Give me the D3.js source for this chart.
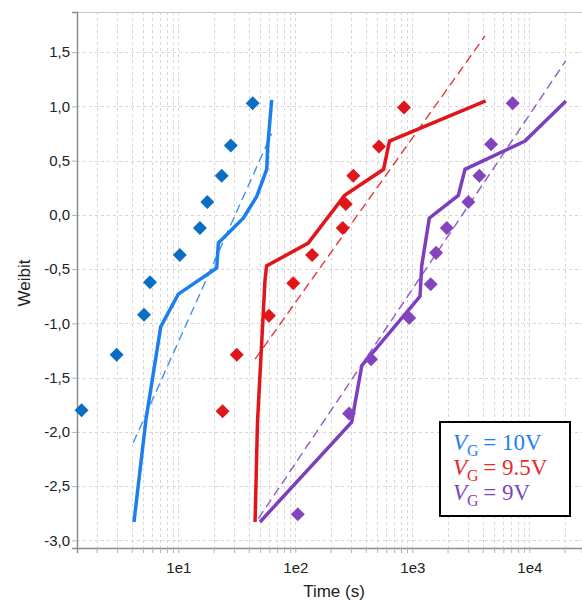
<!DOCTYPE html>
<html>
<head>
<meta charset="utf-8">
<script src="https://cdn.jsdelivr.net/npm/d3@7"></script>
<style>
  body { margin: 0; background: #fff; }
  svg { display: block; }
</style>
</head>
<body>
<div class="chart"></div>
<script>
const dims = { width: 582, height: 600 };
const margin = { top: 12, right: 0, bottom: 52, left: 77 };

// measured data (time in s, weibit)
const blueSolidT = [4.18, 5.30, 7.08, 10.0, 21.3, 22.0, 35.9, 46.8, 57.0, 58.1, 62.8];
const blueSolidW = [-2.83, -1.88, -1.03, -0.73, -0.49, -0.26, -0.03, 0.17, 0.42, 0.63, 1.06];
const redSolidT = [45.3, 47.5, 55.1, 56.8, 129, 264, 568, 638, 4236];
const redSolidW = [-2.83, -1.91, -0.60, -0.47, -0.26, 0.18, 0.42, 0.68, 1.05];
const purpleSolidT = [49.9, 303, 370, 1164, 1203, 1396, 2472, 2820, 9180, 20560];
const purpleSolidW = [-2.83, -1.91, -1.39, -0.75, -0.47, -0.03, 0.18, 0.42, 0.68, 1.05];

const blueDotT = [1.49, 2.97, 5.09, 5.73, 10.3, 15.3, 17.7, 23.5, 28.1, 43.2];
const blueDotW = [-1.80, -1.29, -0.92, -0.62, -0.37, -0.12, 0.12, 0.36, 0.64, 1.03];
const redDotT = [23.9, 31.6, 59.5, 96, 139, 254, 270, 313, 519, 849];
const redDotW = [-1.81, -1.29, -0.93, -0.63, -0.37, -0.12, 0.10, 0.36, 0.63, 0.99];
const purpleDotT = [105, 288, 444, 942, 1436, 1596, 1969, 3013, 3742, 4710, 7210];
const purpleDotW = [-2.76, -1.83, -1.33, -0.95, -0.64, -0.35, -0.12, 0.12, 0.36, 0.65, 1.03];

// fitted lines (two end points each)
const blueFitT = [4.12, 62.8];
const blueFitW = [-2.10, 0.75];
const redFitT = [45.3, 4180];
const redFitW = [-1.33, 1.65];
const purpleFitT = [48.3, 20460];
const purpleFitW = [-2.80, 1.42];

const yTicks = [-3.0, -2.5, -2.0, -1.5, -1.0, -0.5, 0.0, 0.5, 1.0, 1.5];
const xTicks = [10, 100, 1000, 10000];
const xTickLabels = ["1e1", "1e2", "1e3", "1e4"];
const legendLabels = ["10V", "9.5V", "9V"];

const zip = (a, b) => a.map((v, i) => [v, b[i]]);
const series = [
  { solid: zip(blueSolidT, blueSolidW), dots: zip(blueDotT, blueDotW), fit: zip(blueFitT, blueFitW),
    line: "#1c7ff0", dot: "#0a6fc2", text: "#1f7ff0", label: legendLabels[0] },
  { solid: zip(redSolidT, redSolidW), dots: zip(redDotT, redDotW), fit: zip(redFitT, redFitW),
    line: "#e0161b", dot: "#e0161b", text: "#e52c2c", label: legendLabels[1] },
  { solid: zip(purpleSolidT, purpleSolidW), dots: zip(purpleDotT, purpleDotW), fit: zip(purpleFitT, purpleFitW),
    line: "#7d3fbd", dot: "#8444bd", text: "#7f45c0", label: legendLabels[2] }
];

const svg = d3.select(".chart").append("svg")
  .attr("width", dims.width).attr("height", dims.height);

const x = d3.scaleLog().domain([1.362, 28200]).range([margin.left, dims.width - margin.right]);
const y = d3.scaleLinear().domain([-3.07, 1.87]).range([dims.height - margin.bottom, margin.top]);

// minor positions for grid
const minorT = [];
for (let e = 0; e <= 4; e++) for (let m = 1; m <= 9; m++) {
  const v = m * Math.pow(10, e);
  if (v >= x.domain()[0] && v <= x.domain()[1]) minorT.push(v);
}

const grid = svg.append("g").attr("stroke", "#d6d6d6").attr("stroke-width", 1).attr("stroke-dasharray", "3,3");
grid.selectAll(".vg").data(minorT).enter().append("line")
  .attr("x1", d => Math.round(x(d)) + 0.5).attr("x2", d => Math.round(x(d)) + 0.5)
  .attr("y1", margin.top).attr("y2", dims.height - margin.bottom);
grid.selectAll(".hg").data(yTicks).enter().append("line")
  .attr("x1", margin.left).attr("x2", dims.width)
  .attr("y1", d => Math.round(y(d)) + 0.5).attr("y2", d => Math.round(y(d)) + 0.5);

// top frame
svg.append("line").attr("x1", margin.left).attr("x2", dims.width)
  .attr("y1", margin.top + 0.5).attr("y2", margin.top + 0.5)
  .attr("stroke", "#c8c8c8");

// axes
const xAxis = svg.append("g").attr("transform", `translate(0,${dims.height - margin.bottom})`)
  .call(d3.axisBottom(x).tickValues(minorT).tickSize(5)
    .tickFormat(d => { const i = xTicks.indexOf(d); return i >= 0 ? xTickLabels[i] : ""; }));
const yAxis = svg.append("g").attr("transform", `translate(${margin.left},0)`)
  .call(d3.axisLeft(y).tickValues(yTicks).tickSize(5)
    .tickFormat(d => d3.format(".1f")(d).replace(".", ",").replace("−", "-")));
[xAxis, yAxis].forEach(a => {
  a.select(".domain").attr("stroke", "#8c8c8c").attr("stroke-width", 1.5);
  a.selectAll(".tick line").attr("stroke", "#b0b0b0");
  a.selectAll(".tick text").attr("font-family", "Liberation Sans, Arial, sans-serif")
    .attr("font-size", 15).attr("fill", "#222");
});
xAxis.selectAll(".tick text").attr("dy", "1.15em");
yAxis.selectAll(".tick text").attr("x", -7);

svg.append("text").attr("x", 334).attr("y", 597).attr("text-anchor", "middle")
  .attr("font-family", "Liberation Sans, Arial, sans-serif").attr("font-size", 17).attr("fill", "#222")
  .text("Time (s)");
svg.append("text").attr("transform", "translate(30,283) rotate(-90)").attr("text-anchor", "middle")
  .attr("font-family", "Liberation Sans, Arial, sans-serif").attr("font-size", 17).attr("fill", "#222")
  .text("Weibit");

const line = d3.line().x(d => x(d[0])).y(d => y(d[1]));

series.forEach(s => {
  svg.append("path").attr("d", line(s.fit)).attr("fill", "none")
    .attr("stroke", s.line).attr("stroke-width", 1.4).attr("stroke-dasharray", "9,5").attr("opacity", 0.85);
  svg.append("path").attr("d", line(s.solid)).attr("fill", "none")
    .attr("stroke", s.line).attr("stroke-width", 3.5).attr("stroke-linejoin", "miter");
  svg.selectAll(null).data(s.dots).enter().append("path")
    .attr("d", d3.symbol().type(d3.symbolDiamond2).size(125))
    .attr("transform", d => `translate(${x(d[0])},${y(d[1])})`)
    .attr("fill", s.dot);
});

// legend
const lg = svg.append("g").attr("transform", "translate(440,422)");
lg.append("rect").attr("width", 130).attr("height", 94).attr("fill", "#fff")
  .attr("stroke", "#000").attr("stroke-width", 2);
series.forEach((s, i) => {
  const t = lg.append("text").attr("x", 13).attr("y", 28 + i * 25)
    .attr("font-family", "Liberation Serif, DejaVu Serif, serif").attr("font-size", 23).attr("fill", s.text);
  t.append("tspan").attr("font-style", "italic").text("V");
  t.append("tspan").attr("font-size", 16).attr("dy", 6).text("G");
  t.append("tspan").attr("dy", -6).text("\u2009= " + s.label);
});
</script>
</body>
</html>
